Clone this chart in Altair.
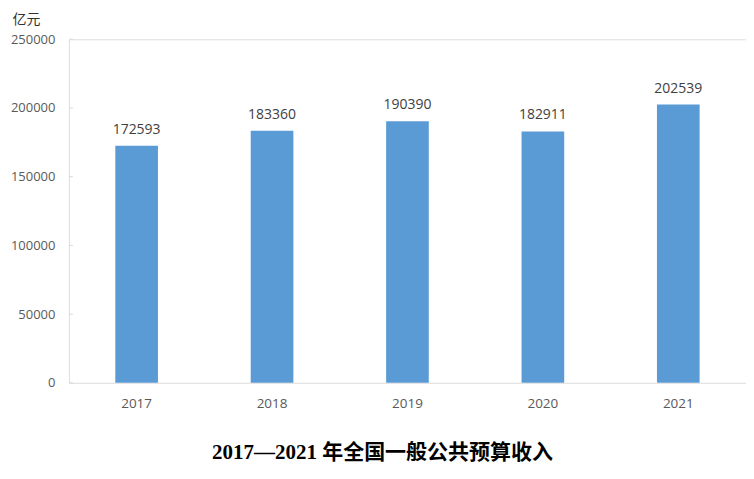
import altair as alt
import pandas as pd

years = ["2017", "2018", "2019", "2020", "2021"]
values = [172593, 183360, 190390, 182911, 202539]
y_ticks = [0, 50000, 100000, 150000, 200000, 250000]
unit = "亿元"
title_text = "2017—2021 年全国一般公共预算收入"

df = pd.DataFrame({"year": years, "value": values})
tick_df = pd.DataFrame({"t": y_ticks})
title_df = pd.DataFrame({"t": [title_text]})

FONT = "Open Sans, Noto Sans CJK SC"

x_enc = alt.X("year:N", sort=years,
              scale=alt.Scale(paddingInner=0.685, paddingOuter=0.3425),
              axis=alt.Axis(title=None, labelAngle=0, labelFont=FONT, labelFontSize=13.5,
                            labelColor="#595959", domain=False, ticks=False, labelPadding=14))
y_scale = alt.Scale(domain=[0, 250000], nice=False)
y_enc = alt.Y("value:Q", scale=y_scale,
              axis=alt.Axis(values=y_ticks, format="d", title=unit, titleAngle=0, titleX=-43,
                            titleY=-20, titleAlign="center", titleBaseline="middle",
                            titleFont=FONT, titleFontSize=14, titleFontWeight="normal",
                            titleColor="#333333", labelFont=FONT, labelFontSize=13,
                            labelColor="#595959", labelPadding=14, domain=False, ticks=False,
                            grid=False))

bars = alt.Chart(df).mark_bar(color="#5b9bd5").encode(x=x_enc, y=y_enc)
labels = alt.Chart(df).mark_text(dy=-9, baseline="bottom", font=FONT, fontSize=14,
                                 color="#404040").encode(
    x=alt.X("year:N", sort=years), y="value:Q", text=alt.Text("value:Q", format="d"))
ticks = alt.Chart(tick_df).mark_rule(color="#d9d9d9").encode(
    y=alt.Y("t:Q", scale=y_scale), x=alt.value(0), x2=alt.value(4))
title = alt.Chart(title_df).mark_text(font="Liberation Serif, Noto Sans CJK SC", fontSize=21,
                                      fontWeight="bold", color="#000000",
                                      baseline="middle", align="center").encode(
    x=alt.value(314), y=alt.value(414), text="t:N")

chart = alt.layer(bars, labels, ticks, title).properties(
    width=678, height=344,
    autosize=alt.AutoSizeParams(type="none"),
    padding={"left": 61, "top": 31, "right": 0, "bottom": 88},
).configure_view(stroke="#d9d9d9", strokeWidth=1.5).configure(background="white")

chart.save("out.html", embed_options={"renderer": "svg", "actions": False})
